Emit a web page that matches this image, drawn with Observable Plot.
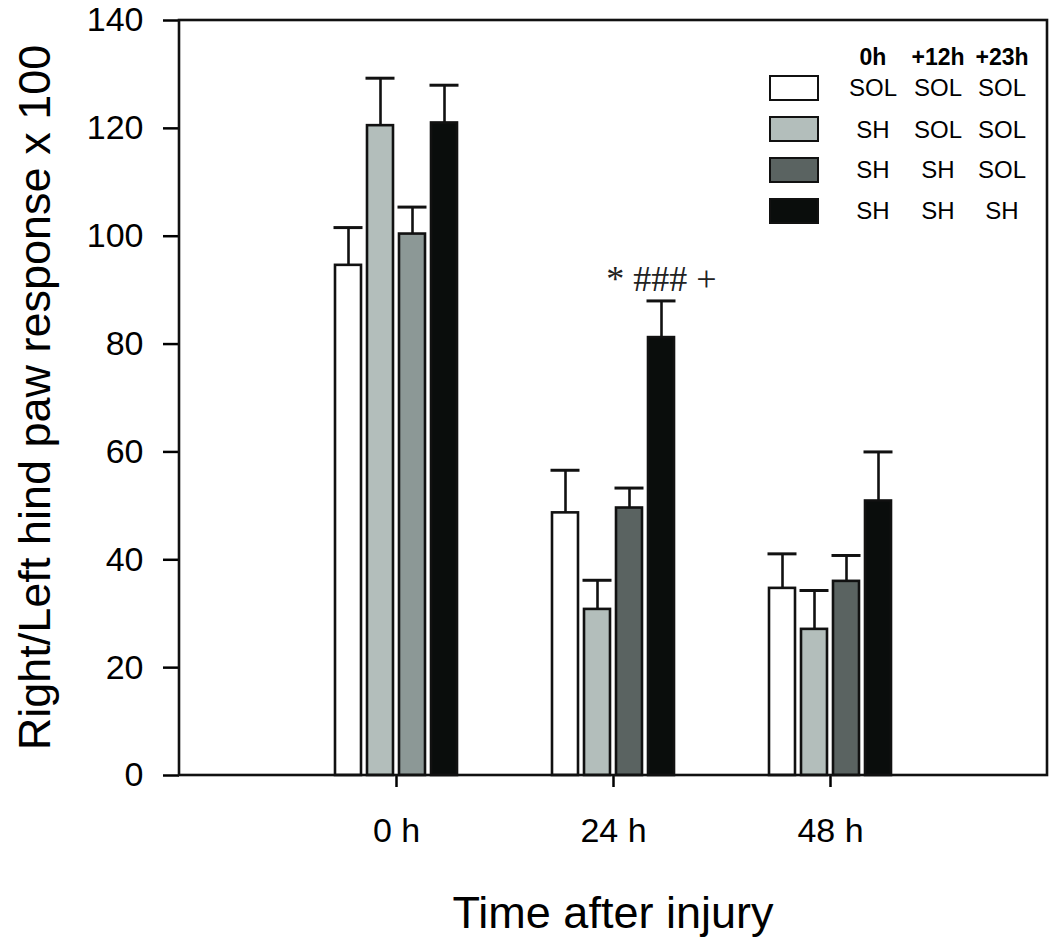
<!DOCTYPE html>
<html>
<head>
<meta charset="utf-8">
<script src="https://cdn.jsdelivr.net/npm/d3@7"></script>
<script src="https://cdn.jsdelivr.net/npm/@observablehq/plot@0.6"></script>
<style>
  body { margin: 0; background: #fff; }
  #chart { position: relative; width: 1050px; height: 939px; font-family: "Liberation Sans", Arial, sans-serif; }
  #chart svg g[aria-label="fx-axis tick label"] { font-size: 34px; }
  #chart svg g[aria-label="y-axis tick label"] { font-size: 34px; }
  #chart svg g[aria-label="y-axis tick"] path, #chart svg g[aria-label="fx-axis tick"] path { stroke-width: 2.5px; }
  #legend { position: absolute; left: 0; top: 0; width: 1050px; height: 260px; pointer-events: none; }
  #legend .hdr { position: absolute; top: 44px; font-weight: bold; font-size: 23px; transform: translateX(-50%); }
  #legend .cell { position: absolute; font-size: 24px; transform: translate(-50%, -50%); }
  #legend .sw { position: absolute; left: 769px; width: 46px; height: 22px; border: 2.6px solid #111; }
</style>
</head>
<body>
<div id="chart"></div>
<script>
// ---- data ----
const groups = ["0 h", "24 h", "48 h"];
const series = ["SOL SOL SOL", "SH SOL SOL", "SH SH SOL", "SH SH SH"];
const legendHeader = ["0h", "+12h", "+23h"];
const legendRows = [["SOL", "SOL", "SOL"], ["SH", "SOL", "SOL"], ["SH", "SH", "SOL"], ["SH", "SH", "SH"]];
// means at 0 h, 24 h, 48 h for each series
const meanSolSolSol = [94.6, 48.7, 34.7];
const meanShSolSol  = [120.5, 30.8, 27.1];
const meanShShSol   = [100.4, 49.6, 36.0];
const meanShShSh    = [121.0, 81.2, 50.9];
// error bar (upper) sizes
const errSolSolSol = [7.0, 7.9, 6.4];
const errShSolSol  = [8.8, 5.4, 7.2];
const errShShSol   = [5.0, 3.7, 4.8];
const errShShSh    = [7.0, 6.8, 9.1];
const yTicks = [0, 20, 40, 60, 80, 100, 120, 140];
const annotations = [{group: "24 h", series: "SH SH SH", y: 92, text: "* ### +"}];
const yTitle = "Right/Left hind paw response x 100";
const xTitle = "Time after injury";

// ---- styles ----
const seriesFill = {"SOL SOL SOL": "#ffffff", "SH SOL SOL": "#b3bebb", "SH SH SOL": "#5a6361", "SH SH SH": "#0a0d0c"};
const zeroHourDarkFill = "#8c9896";

const means = [meanSolSolSol, meanShSolSol, meanShShSol, meanShShSh];
const errs = [errSolSolSol, errShSolSol, errShShSol, errShShSh];
const data = [];
groups.forEach((g, i) => series.forEach((s, j) => data.push({group: g, series: s, mean: means[j][i], err: errs[j][i]})));
const fillOf = d => (d.group === "0 h" && d.series === "SH SH SOL") ? zeroHourDarkFill : seriesFill[d.series];

const plot = Plot.plot({
  width: 1050, height: 939,
  marginTop: 20, marginBottom: 164, marginLeft: 179, marginRight: 3,
  style: {fontFamily: '"Liberation Sans", Arial, sans-serif', fontSize: "36px", color: "#000", background: "#fff"},
  fx: {domain: groups, paddingInner: -1, paddingOuter: 0, label: null, tickSize: 12, tickPadding: 30},
  x: {domain: series, paddingInner: 0.19, paddingOuter: 4.764, axis: null},
  y: {domain: [0, 140], ticks: yTicks, tickSize: 16, tickPadding: 20, label: null},
  color: {type: "identity"},
  marks: [
    Plot.ruleX(data, {fx: "group", x: "series", y1: "mean", y2: d => d.mean + d.err, stroke: "#111", strokeWidth: 2.6}),
    Plot.tickY(data, {fx: "group", x: "series", y: d => d.mean + d.err, stroke: "#111", strokeWidth: 3, insetLeft: -1.5, insetRight: -1.5}),
    Plot.barY(data, {fx: "group", x: "series", y: "mean", fill: fillOf, stroke: "#111", strokeWidth: 2.6}),
    Plot.text(annotations, {fx: "group", x: "series", y: "y", text: "text", fontSize: 36, fontFamily: '"Liberation Serif", "Times New Roman", serif', fill: "#222"})
  ]
});
document.getElementById("chart").appendChild(plot);

// frame box and titles
const svg = d3.select(plot);
const ys = plot.scale("y");
const frameTop = ys.apply(140), frameBottom = ys.apply(0);
svg.append("rect").attr("x", 179).attr("y", frameTop).attr("width", 1047 - 179).attr("height", frameBottom - frameTop)
  .attr("fill", "none").attr("stroke", "#111").attr("stroke-width", 2.6);
svg.append("text").attr("x", 613).attr("y", 928).attr("text-anchor", "middle")
  .attr("font-size", 45).text(xTitle);
svg.append("text").attr("transform", `translate(50,${(frameTop + frameBottom) / 2}) rotate(-90)`).attr("text-anchor", "middle")
  .attr("font-size", 45).text(yTitle);

// legend (overlay inside plot)
const leg = d3.select("#chart").append("div").attr("id", "legend");
const colX = [873, 938, 1002];
legendHeader.forEach((h, i) => leg.append("div").attr("class", "hdr").style("left", colX[i] + "px").text(h));
const rowY = [88, 129.5, 170, 211];
legendRows.forEach((row, r) => {
  leg.append("div").attr("class", "sw").style("top", (rowY[r] - 13.5) + "px").style("background", seriesFill[series[r]]);
  row.forEach((t, i) => leg.append("div").attr("class", "cell").style("left", colX[i] + "px").style("top", rowY[r] + "px").text(t));
});
</script>
</body>
</html>
